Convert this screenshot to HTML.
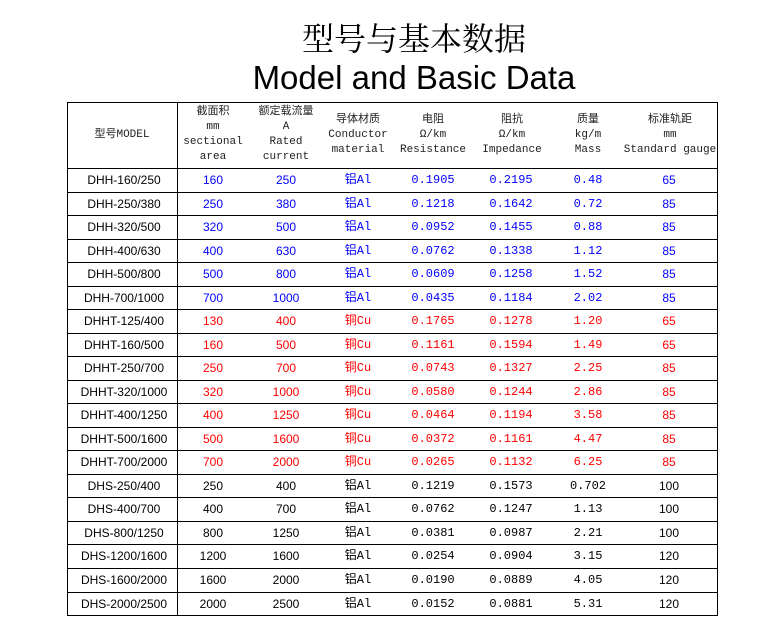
<!DOCTYPE html>
<html><head><meta charset="utf-8"><style>
body{margin:0;width:783px;height:621px;background:#fff;position:relative;overflow:hidden;font-family:"Liberation Sans","Noto Sans CJK SC",sans-serif}
.t1{position:absolute;left:0;width:828px;top:18px;text-align:center;font-family:"Noto Serif CJK SC","Noto Sans CJK SC",serif;font-size:32px;line-height:38px}
.t2{position:absolute;left:0;width:828px;top:59px;text-align:center;font-size:33px;line-height:38px}
.box{position:absolute;left:67px;top:102px;width:649px;height:512px;border:1px solid #000}
.vl{position:absolute;left:177px;top:102px;width:1px;height:513px;background:#000}
.hl{position:absolute;left:67px;width:650px;height:1px;background:#000}
.c{position:absolute;text-align:center;font-size:12px;line-height:23px;white-space:nowrap}
.hd{position:absolute;top:104px;height:62px;display:flex;align-items:center;justify-content:center;text-align:center;font-family:"Liberation Mono","Noto Sans CJK SC",monospace;font-size:11px;line-height:15px;color:#222;white-space:nowrap}
.d{font-family:"Liberation Mono","Noto Sans CJK SC",monospace}
</style></head><body>
<div class="t1">型号与基本数据</div>
<div class="t2">Model and Basic Data</div>
<div class="box"></div><div class="vl"></div>
<div class="hd" style="left:67px;width:110px">型号MODEL</div>
<div class="hd" style="left:177px;width:72px">截面积<br>mm<br>sectional<br>area</div>
<div class="hd" style="left:249px;width:74px">额定载流量<br>A<br>Rated<br>current</div>
<div class="hd" style="left:323px;width:70px">导体材质<br>Conductor<br>material</div>
<div class="hd" style="left:393px;width:80px">电阻<br>Ω/km<br>Resistance</div>
<div class="hd" style="left:473px;width:78px">阻抗<br>Ω/km<br>Impedance</div>
<div class="hd" style="left:551px;width:74px">质量<br>kg/m<br>Mass</div>
<div class="hd" style="left:625px;width:90px">标准轨距<br>mm<br>Standard gauge</div>
<div id="rows"></div>
<script>
var data=[
["DHH-160/250","160","250","铝Al","0.1905","0.2195","0.48","65","#0000ff"],
["DHH-250/380","250","380","铝Al","0.1218","0.1642","0.72","85","#0000ff"],
["DHH-320/500","320","500","铝Al","0.0952","0.1455","0.88","85","#0000ff"],
["DHH-400/630","400","630","铝Al","0.0762","0.1338","1.12","85","#0000ff"],
["DHH-500/800","500","800","铝Al","0.0609","0.1258","1.52","85","#0000ff"],
["DHH-700/1000","700","1000","铝Al","0.0435","0.1184","2.02","85","#0000ff"],
["DHHT-125/400","130","400","铜Cu","0.1765","0.1278","1.20","65","#ff0000"],
["DHHT-160/500","160","500","铜Cu","0.1161","0.1594","1.49","65","#ff0000"],
["DHHT-250/700","250","700","铜Cu","0.0743","0.1327","2.25","85","#ff0000"],
["DHHT-320/1000","320","1000","铜Cu","0.0580","0.1244","2.86","85","#ff0000"],
["DHHT-400/1250","400","1250","铜Cu","0.0464","0.1194","3.58","85","#ff0000"],
["DHHT-500/1600","500","1600","铜Cu","0.0372","0.1161","4.47","85","#ff0000"],
["DHHT-700/2000","700","2000","铜Cu","0.0265","0.1132","6.25","85","#ff0000"],
["DHS-250/400","250","400","铝Al","0.1219","0.1573","0.702","100","#000"],
["DHS-400/700","400","700","铝Al","0.0762","0.1247","1.13","100","#000"],
["DHS-800/1250","800","1250","铝Al","0.0381","0.0987","2.21","100","#000"],
["DHS-1200/1600","1200","1600","铝Al","0.0254","0.0904","3.15","120","#000"],
["DHS-1600/2000","1600","2000","铝Al","0.0190","0.0889","4.05","120","#000"],
["DHS-2000/2500","2000","2500","铝Al","0.0152","0.0881","5.31","120","#000"]];
var cx=[124,213,286,358,433,511,588,669],h="";
for(var i=0;i<data.length;i++){var y=168+i*23.53;h+='<div class="hl" style="top:'+Math.round(y)+'px"></div>';
for(var j=0;j<8;j++){var col=j==0?"#000":data[i][8];var cls=(j>=3&&j<=6)?"c d":"c";
h+='<div class="'+cls+'" style="left:'+(cx[j]-50)+'px;width:100px;top:'+Math.round(y+1)+'px;color:'+col+'">'+data[i][j]+'</div>';}}
document.getElementById("rows").innerHTML=h;
</script>
</body></html>
